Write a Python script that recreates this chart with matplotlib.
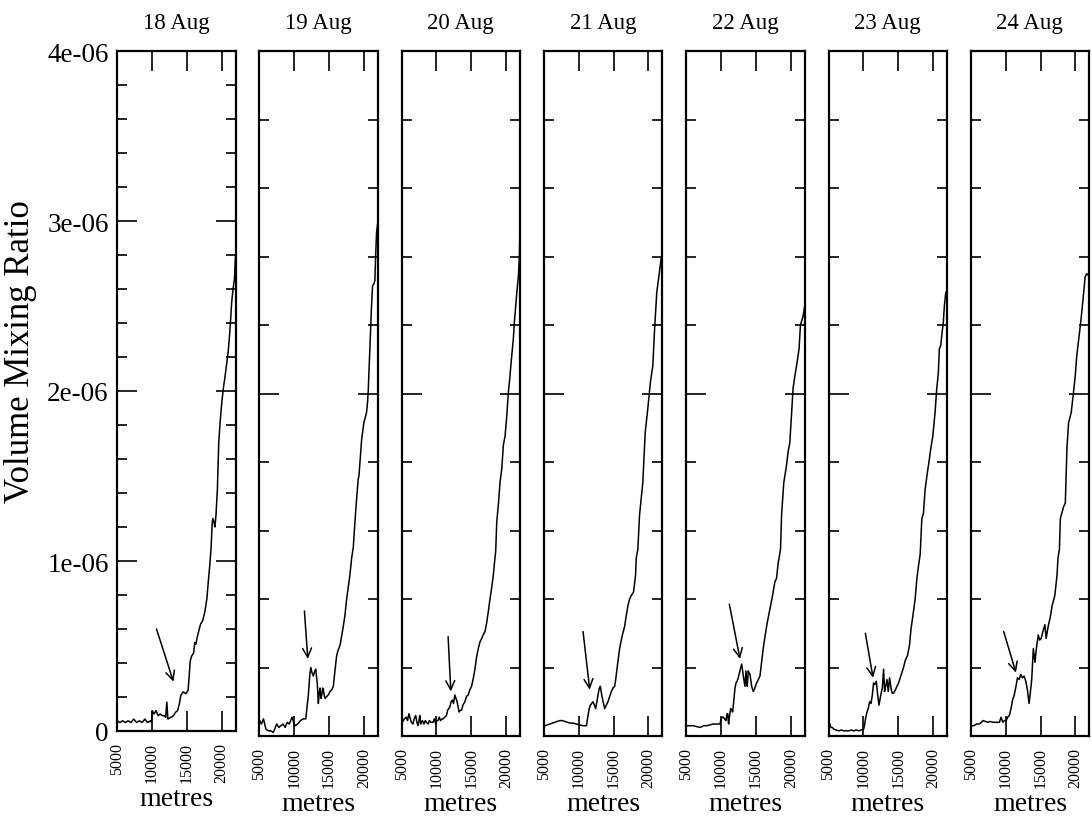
"""Seven daily volume mixing ratio profiles (18-24 Aug), one narrow panel per day."""
import numpy as np
import matplotlib
matplotlib.use("Agg")
import matplotlib.pyplot as plt
from matplotlib.ticker import MultipleLocator, FuncFormatter

plt.rcParams["font.family"] = ["Liberation Serif", "DejaVu Serif"]

days = ["18 Aug", "19 Aug", "20 Aug", "21 Aug", "22 Aug", "23 Aug", "24 Aug"]

# (altitude in metres, vmr in 1e-6)
prof_18 = [(5000, 0.06), (5400, 0.05), (5800, 0.06), (6200, 0.05), (6600, 0.06), (7000, 0.05),
           (7400, 0.07), (7800, 0.05), (8200, 0.06), (8600, 0.05), (9000, 0.07), (9400, 0.05),
           (9800, 0.06), (9950, 0.05), (10050, 0.12), (10300, 0.10), (10600, 0.12), (10900, 0.09),
           (11200, 0.10), (11500, 0.09), (11800, 0.09), (11980, 0.08), (12150, 0.17), (12300, 0.07),
           (12700, 0.08), (13100, 0.09), (13400, 0.11), (13700, 0.12), (14000, 0.17), (14150, 0.21),
           (14500, 0.23), (14900, 0.22), (15200, 0.24), (15350, 0.32), (15500, 0.41), (15700, 0.44),
           (16000, 0.46), (16150, 0.52), (16300, 0.51), (16500, 0.55), (16800, 0.60), (17000, 0.63),
           (17300, 0.65), (17600, 0.70), (17900, 0.78), (18100, 0.88), (18300, 0.97), (18500, 1.08),
           (18650, 1.22), (18750, 1.25), (18900, 1.23), (19050, 1.20), (19200, 1.27), (19400, 1.42),
           (19600, 1.70), (19800, 1.82), (20050, 1.94), (20300, 2.03), (20450, 2.07), (20700, 2.15),
           (20950, 2.23), (21150, 2.33), (21300, 2.42), (21450, 2.52), (21650, 2.60), (21850, 2.66),
           (22000, 2.80)]

prof_19 = [(5050, 0.09), (5300, 0.07), (5600, 0.10), (5950, 0.04), (6300, 0.03), (6700, 0.03),
           (7000, 0.02), (7200, 0.04), (7500, 0.07), (7800, 0.05), (8100, 0.06), (8400, 0.07),
           (8700, 0.05), (9000, 0.08), (9300, 0.07), (9700, 0.11), (10000, 0.07), (10150, 0.06),
           (10500, 0.07), (10900, 0.09), (11300, 0.10), (11670, 0.10), (11850, 0.17), (12040, 0.24),
           (12250, 0.36), (12390, 0.40), (12550, 0.37), (12760, 0.35), (12950, 0.38), (13100, 0.39),
           (13330, 0.30), (13470, 0.19), (13600, 0.25), (13720, 0.28), (13850, 0.22), (13960, 0.24),
           (14100, 0.28), (14190, 0.27), (14300, 0.24), (14430, 0.22), (14670, 0.23), (14900, 0.24),
           (15150, 0.26), (15400, 0.27), (15620, 0.29), (15850, 0.38), (16100, 0.47), (16300, 0.50),
           (16580, 0.53), (16800, 0.58), (17050, 0.64), (17300, 0.71), (17530, 0.80), (17800, 0.88),
           (18000, 0.94), (18250, 1.04), (18480, 1.10), (18720, 1.25), (18950, 1.38), (19190, 1.50),
           (19300, 1.52), (19680, 1.73), (20000, 1.83), (20200, 1.86), (20390, 1.89), (20530, 1.95),
           (20620, 2.01), (20860, 2.26), (21100, 2.51), (21250, 2.63), (21450, 2.64), (21580, 2.66),
           (21680, 2.79), (21820, 2.94), (22000, 3.00)]

prof_20 = [(5100, 0.08), (5400, 0.10), (5680, 0.11), (5850, 0.09), (6050, 0.13), (6250, 0.10),
           (6400, 0.08), (6630, 0.07), (6800, 0.10), (7020, 0.12), (7200, 0.08), (7350, 0.06),
           (7500, 0.09), (7600, 0.12), (7750, 0.07), (7840, 0.08), (8000, 0.09), (8200, 0.07),
           (8400, 0.09), (8560, 0.08), (8800, 0.07), (9000, 0.09), (9200, 0.08), (9500, 0.08),
           (9700, 0.10), (9900, 0.07), (10000, 0.09), (10230, 0.09), (10400, 0.11), (10600, 0.09),
           (10800, 0.10), (10950, 0.10), (11200, 0.11), (11440, 0.12), (11600, 0.15), (11920, 0.17),
           (12100, 0.20), (12300, 0.21), (12450, 0.19), (12640, 0.24), (12800, 0.22), (12970, 0.20),
           (13100, 0.17), (13260, 0.14), (13400, 0.15), (13600, 0.15), (13800, 0.18), (14080, 0.20),
           (14300, 0.23), (14550, 0.24), (14800, 0.27), (15040, 0.29), (15300, 0.34), (15520, 0.39),
           (15750, 0.46), (16000, 0.51), (16250, 0.55), (16490, 0.57), (16700, 0.59), (16960, 0.61),
           (17200, 0.66), (17450, 0.73), (17680, 0.80), (17900, 0.86), (18160, 0.94), (18300, 1.00),
           (18500, 1.08), (18650, 1.25), (18900, 1.36), (19120, 1.48), (19370, 1.56), (19600, 1.70),
           (19840, 1.75), (20090, 1.87), (20320, 2.01), (20500, 2.08), (20710, 2.18), (20890, 2.26),
           (21050, 2.33), (21180, 2.42), (21350, 2.50), (21530, 2.59), (21760, 2.69), (21900, 2.80),
           (22000, 3.02)]

prof_21 = [(5140, 0.06), (5500, 0.065), (5860, 0.07), (6200, 0.075), (6570, 0.08), (6900, 0.085),
           (7290, 0.09), (7650, 0.09), (8000, 0.085), (8400, 0.08), (8720, 0.076), (9200, 0.075),
           (9670, 0.07), (10100, 0.065), (10620, 0.06), (11100, 0.06), (11330, 0.12), (11500, 0.16),
           (11670, 0.18), (11850, 0.19), (12050, 0.20), (12250, 0.18), (12430, 0.16), (12600, 0.20),
           (12760, 0.24), (12950, 0.28), (13100, 0.29), (13250, 0.25), (13390, 0.22), (13550, 0.19),
           (13720, 0.16), (13950, 0.18), (14190, 0.20), (14430, 0.23), (14680, 0.26), (14900, 0.28),
           (15150, 0.29), (15300, 0.33), (15480, 0.39), (15860, 0.51), (16200, 0.58), (16580, 0.64),
           (16800, 0.70), (17050, 0.76), (17300, 0.80), (17530, 0.82), (17860, 0.84), (18150, 0.94),
           (18250, 1.04), (18480, 1.09), (18720, 1.29), (19190, 1.48), (19530, 1.77), (19900, 1.91),
           (20290, 2.07), (20620, 2.16), (20860, 2.36), (21190, 2.59), (21580, 2.71), (21820, 2.79),
           (22000, 2.80)]

prof_22 = [(5100, 0.06), (5600, 0.06), (6040, 0.06), (6500, 0.055), (7000, 0.05), (7500, 0.06),
           (7960, 0.06), (8400, 0.065), (8900, 0.07), (9400, 0.07), (9860, 0.07), (10000, 0.10),
           (10200, 0.11), (10330, 0.11), (10500, 0.10), (10720, 0.09), (10850, 0.13), (10960, 0.13),
           (11080, 0.07), (11190, 0.11), (11390, 0.16), (11530, 0.15), (11670, 0.14), (11860, 0.22),
           (12000, 0.28), (12150, 0.31), (12300, 0.32), (12470, 0.34), (12700, 0.38), (12960, 0.42),
           (13100, 0.38), (13190, 0.35), (13430, 0.29), (13570, 0.38), (13700, 0.31), (13760, 0.29),
           (13900, 0.38), (14000, 0.37), (14150, 0.36), (14390, 0.29), (14620, 0.26), (14850, 0.28),
           (15100, 0.31), (15350, 0.33), (15580, 0.35), (16050, 0.51), (16300, 0.58), (16620, 0.66),
           (17000, 0.74), (17390, 0.82), (17720, 0.90), (17960, 0.92), (18190, 1.01), (18330, 1.04),
           (18530, 1.09), (18680, 1.29), (19000, 1.48), (19390, 1.58), (19620, 1.66), (19860, 1.71),
           (20100, 1.87), (20330, 2.03), (20580, 2.10), (20900, 2.18), (21190, 2.26), (21390, 2.40),
           (21760, 2.45), (22000, 2.51)]

prof_23 = [(5190, 0.07), (5350, 0.05), (5530, 0.05), (5760, 0.04), (6100, 0.035), (6470, 0.03),
           (6850, 0.035), (7190, 0.03), (7550, 0.03), (7900, 0.03), (8250, 0.035), (8620, 0.03),
           (9000, 0.035), (9330, 0.03), (9700, 0.035), (10050, 0.04), (10150, 0.06), (10350, 0.11),
           (10530, 0.14), (10700, 0.16), (10900, 0.20), (11100, 0.19), (11290, 0.24), (11470, 0.31),
           (11650, 0.30), (11860, 0.32), (12050, 0.24), (12250, 0.18), (12500, 0.24), (12720, 0.28),
           (12900, 0.39), (13050, 0.26), (13200, 0.29), (13390, 0.33), (13570, 0.26), (13760, 0.34),
           (13900, 0.30), (14000, 0.27), (14150, 0.25), (14330, 0.25), (14600, 0.27), (14820, 0.29),
           (15050, 0.31), (15290, 0.34), (15530, 0.37), (15760, 0.40), (16000, 0.44), (16330, 0.47),
           (16620, 0.53), (16820, 0.62), (17100, 0.70), (17430, 0.80), (17680, 0.92), (17900, 0.99),
           (18150, 1.06), (18390, 1.27), (18620, 1.30), (18860, 1.44), (19190, 1.54), (19480, 1.62),
           (19680, 1.68), (19960, 1.75), (20290, 1.89), (20530, 2.03), (20760, 2.12), (20900, 2.26),
           (21100, 2.28), (21250, 2.34), (21480, 2.42), (21620, 2.51), (21820, 2.59), (22000, 2.60)]

prof_24 = [(5100, 0.06), (5450, 0.06), (5800, 0.07), (6200, 0.07), (6520, 0.08), (6740, 0.09),
           (7100, 0.085), (7450, 0.08), (7800, 0.085), (8160, 0.08), (8500, 0.08), (8870, 0.08),
           (9100, 0.08), (9350, 0.11), (9580, 0.08), (9820, 0.09), (10060, 0.09), (10300, 0.11),
           (10530, 0.12), (10770, 0.16), (10990, 0.21), (11240, 0.24), (11480, 0.29), (11700, 0.34),
           (11940, 0.33), (12180, 0.36), (12410, 0.34), (12650, 0.35), (12890, 0.32), (13120, 0.27),
           (13360, 0.19), (13500, 0.24), (13740, 0.33), (13970, 0.51), (14210, 0.43), (14400, 0.51),
           (14680, 0.59), (14880, 0.56), (15100, 0.57), (15340, 0.61), (15630, 0.65), (15810, 0.57),
           (16100, 0.64), (16430, 0.70), (16660, 0.76), (17050, 0.82), (17370, 0.94), (17510, 1.04),
           (17710, 1.09), (17850, 1.27), (18320, 1.34), (18560, 1.36), (18790, 1.68), (19030, 1.83),
           (19410, 1.89), (19740, 2.01), (19980, 2.10), (20200, 2.22), (20550, 2.34), (20830, 2.44),
           (21150, 2.57), (21400, 2.68), (21620, 2.70), (21860, 2.69), (22000, 2.70)]

profiles = [prof_18, prof_19, prof_20, prof_21, prof_22, prof_23, prof_24]

# arrows marking the layer: tail and head, (metres, vmr in 1e-6)
arrow_tails = [(10667, 0.60), (11473, 0.73), (11672, 0.58), (10616, 0.61), (11187, 0.77), (10287, 0.60), (9719, 0.61)]
arrow_heads = [(13093, 0.29), (11959, 0.45), (12061, 0.26), (11573, 0.27), (12717, 0.45), (11387, 0.34), (11476, 0.37)]

W, H = 1092, 820
fig = plt.figure(figsize=(W / 100, H / 100), dpi=100)


def ylab(v, pos):
    return "0" if abs(v) < 1e-12 else f"{v:.0e}"


for i, (day, prof) in enumerate(zip(days, profiles)):
    left = 117 + i * 142.3
    bottom = 732 if i == 0 else 737
    ax = fig.add_axes([left / W, 1 - bottom / H, 118.5 / W, (bottom - 52) / H])

    alt, vmr = zip(*prof)
    ax.plot(alt, np.array(vmr) * 1e-6, color="black", lw=1.1)

    tx, ty = arrow_tails[i]
    hx, hy = arrow_heads[i]
    ax.annotate("", xy=(hx, hy * 1e-6), xytext=(tx, ty * 1e-6),
                arrowprops=dict(arrowstyle="->,head_length=0.65,head_width=0.32",
                                color="black", lw=1.1, shrinkA=0, shrinkB=0))

    ax.set_xlim(5000, 22000)
    ax.set_ylim(0, 4e-6)
    ax.xaxis.set_major_locator(MultipleLocator(5000))
    if i == 0:
        ax.yaxis.set_major_locator(MultipleLocator(1e-6))
        ax.yaxis.set_minor_locator(MultipleLocator(0.2e-6))
        ax.yaxis.set_major_formatter(FuncFormatter(ylab))
    else:
        ax.yaxis.set_major_locator(MultipleLocator(2e-6))
        ax.yaxis.set_minor_locator(MultipleLocator(0.4e-6))
        ax.tick_params(labelleft=False)

    ax.tick_params(which="both", direction="in", top=True, right=True, width=1.2)
    ax.tick_params(which="major", length=14.5)
    ax.tick_params(which="minor", length=7)
    ax.tick_params(axis="x", labelsize=11.5, labelrotation=90, pad=8)
    ax.tick_params(axis="y", labelsize=19.5, pad=6)
    for s in ax.spines.values():
        s.set_linewidth(1.6)

    ax.set_xlabel("metres", fontsize=20, labelpad=3)
    fig.text((left + 59) / W, 1 - 23 / H, day, ha="center", va="center", fontsize=16.5)

fig.text(21 / W, 1 - 352 / H, "Volume Mixing Ratio", rotation=90,
         ha="center", va="center", fontsize=25)

fig.savefig("out.png", dpi=100)
